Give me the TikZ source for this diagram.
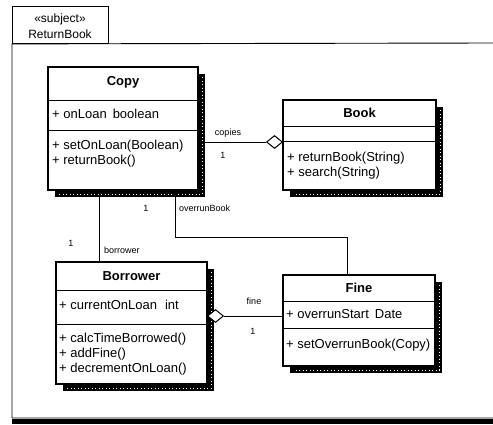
\documentclass[tikz,border=0pt]{standalone}
\usepackage{fontspec}
\setmainfont{Liberation Sans}
\usetikzlibrary{shapes.geometric}
\newcommand\umlshadow[1]{%
  \fill[black] ([xshift=1pt,yshift=-7pt]#1.north east) rectangle ([xshift=7pt,yshift=-7pt]#1.south east);
  \fill[black] ([xshift=7pt,yshift=-1pt]#1.south west) rectangle ([xshift=7pt,yshift=-7pt]#1.south east);
  \draw[white,line width=0.8pt,dash pattern=on 1pt off 2.5pt] ([xshift=4pt,yshift=-10pt]#1.north east) -- ([xshift=4pt,yshift=-4pt]#1.south east) -- ([xshift=10pt,yshift=-4pt]#1.south west);
}
\begin{document}
\begin{tikzpicture}[x=1pt,y=-1pt,
  classbox/.style={draw,line width=1.1pt,fill=white,inner sep=0pt,outer sep=0pt,anchor=north west},
  ctitle/.style={font=\fontsize{13}{15}\selectfont\bfseries,inner sep=0pt},
  member/.style={font=\fontsize{13}{15}\selectfont,inner sep=0pt,anchor=west},
  tabtext/.style={font=\fontsize{12}{14}\selectfont,inner sep=0pt},
  small/.style={font=\fontsize{9}{10}\selectfont,inner sep=0pt},
  sep/.style={line width=0.9pt},
  conn/.style={line width=0.9pt},
  agg/.style={draw,diamond,fill=white,line width=1pt,inner sep=0pt,minimum width=16pt,minimum height=13pt}]
\useasboundingbox (0,0) rectangle (493,424);
\fill[white] (0,0) rectangle (493,424);

% package frame
\node[draw,line width=0.9pt,inner sep=0pt,minimum width=96pt,minimum height=37pt,anchor=north west] (tab) at (12,6) {};
\node[tabtext] (stereo) at (60,19) {«subject»};
\node[tabtext] (pkgname) at (60,34) {ReturnBook};
\coordinate (frTR) at (493,43);
\coordinate (frBR) at (493,418);
\draw[line width=0.9pt] (frTR) -- (tab.south west) -- (tab.south west |- frBR) -- (frBR);
\fill[black] (12,419) rectangle (493,424);

% Copy
\node[classbox,minimum width=150pt,minimum height=123pt] (copy) at (48,67) {};
\umlshadow{copy}
\node[classbox,minimum width=150pt,minimum height=123pt] at (48,67) {};
\node[ctitle] (copyT) at (123,82) {Copy};
\draw[sep] (copy.west |- 0,100) -- (copy.east |- 0,100);
\node[member] (copyA) at (52,114) {+ onLoan\hspace{6pt}boolean};
\draw[sep] (copy.west |- 0,130) -- (copy.east |- 0,130);
\node[member] (copyO1) at (52,146) {+ setOnLoan(Boolean)};
\node[member] (copyO2) at (52,161) {+ returnBook()};

% Book
\node[classbox,minimum width=153pt,minimum height=90pt] (book) at (283,100) {};
\umlshadow{book}
\node[classbox,minimum width=153pt,minimum height=90pt] at (283,100) {};
\node[ctitle] (bookT) at (359.5,113) {Book};
\draw[sep] (book.west |- 0,126) -- (book.east |- 0,126);
\draw[sep] (book.west |- 0,141) -- (book.east |- 0,141);
\node[member] (bookO1) at (287,158) {+ returnBook(String)};
\node[member] (bookO2) at (287,173) {+ search(String)};

% Borrower
\node[classbox,minimum width=151pt,minimum height=122pt] (borrower) at (56,262) {};
\umlshadow{borrower}
\node[classbox,minimum width=151pt,minimum height=122pt] at (56,262) {};
\node[ctitle] (borT) at (131.5,276) {Borrower};
\draw[sep] (borrower.west |- 0,290) -- (borrower.east |- 0,290);
\node[member] (borA) at (59,305) {+ currentOnLoan\hspace{8pt}int};
\draw[sep] (borrower.west |- 0,324) -- (borrower.east |- 0,324);
\node[member] (borO1) at (59,339) {+ calcTimeBorrowed()};
\node[member] (borO2) at (59,354) {+ addFine()};
\node[member] (borO3) at (59,369) {+ decrementOnLoan()};

% Fine
\node[classbox,minimum width=152pt,minimum height=91pt] (fine) at (283,275) {};
\umlshadow{fine}
\node[classbox,minimum width=152pt,minimum height=91pt] at (283,275) {};
\node[ctitle] (fineT) at (359,288) {Fine};
\draw[sep] (fine.west |- 0,301) -- (fine.east |- 0,301);
\node[member] (fineA) at (286,314) {+ overrunStart\hspace{6pt}Date};
\draw[sep] (fine.west |- 0,328) -- (fine.east |- 0,328);
\node[member] (fineO) at (286,345) {+ setOverrunBook(Copy)};

% aggregation diamonds
\node[agg,anchor=east] (bookD) at (283,142) {};
\node[agg,anchor=west] (borD) at (207,316) {};

% connectors
\draw[conn] (copy.east |- bookD) -- (bookD.west);
\node[small] (lcopies) at (228,133) {copies};
\node[small] (lone1) at (223,155) {1};

\coordinate (cb) at (99,0);
\draw[conn] (copy.south -| cb) -- (borrower.north -| cb);
\node[small] (lone2) at (71,243) {1};
\node[small,anchor=west] (lborrower) at (104,250) {borrower};

\coordinate (ob1) at (175,237);
\coordinate (ob2) at (347,237);
\draw[conn] (copy.south -| ob1) -- (ob1) -- (ob2) -- (ob2 |- fine.north);
\node[small] (lone3) at (146,208) {1};
\node[small,anchor=west] (loverrun) at (179,208) {overrunBook};

\draw[conn] (borD.east) -- (fine.west |- borD);
\node[small] (lfine) at (254,301) {fine};
\node[small] (lone4) at (253,331) {1};
\end{tikzpicture}
\end{document}
